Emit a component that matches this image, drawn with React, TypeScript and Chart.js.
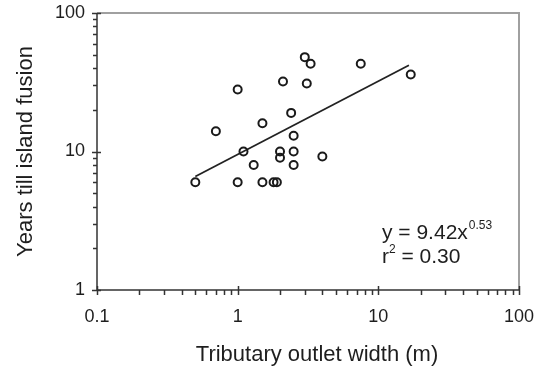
import React, { useEffect, useRef } from "react";
import { Chart, registerables } from "chart.js";

Chart.register(...registerables);

const widths = [0.5, 1.0, 1.5, 1.8, 1.9, 0.7, 1.0, 1.1, 1.3, 1.5, 2.0, 2.0, 2.1, 2.4, 2.5, 2.5, 2.5, 3.0, 3.1, 3.3, 4.0, 7.5, 17];
const years = [6, 6, 6, 6, 6, 14, 28, 10, 8, 16, 10, 9, 32, 19, 13, 10, 8, 48, 31, 43, 9.2, 43, 36];

const fitX = [0.5, 16.5];
const fitY = [6.6, 42];

const xDecades = [0.1, 1, 10, 100];
const xTickLabels = ["0.1", "1", "10", "100"];
const yDecades = [1, 10, 100];
const yTickLabels = ["1", "10", "100"];

const xTitle = "Tributary outlet width (m)";
const yTitle = "Years till island fusion";
const eqMain = "y = 9.42x";
const eqExp = "0.53";
const r2Base = "r";
const r2Exp = "2";
const r2Rest = " = 0.30";

const FONT = "'Liberation Sans', Arial, sans-serif";
const TEXT = "#1e1e1e";

function logTicks(decades: number[]): number[] {
  const out: number[] = [];
  for (let d = 0; d < decades.length - 1; d++) {
    for (let m = 1; m < 10; m++) out.push(+(decades[d] * m).toPrecision(6));
  }
  out.push(decades[decades.length - 1]);
  return out;
}

function isDecade(v: number, decades: number[]) {
  return decades.some((d) => Math.abs(d - v) / d < 1e-6);
}

const decorPlugin = {
  id: "decor",
  afterDraw(chart: any) {
    const { ctx, chartArea } = chart;
    const { left, right, top, bottom } = chartArea;
    const xs = chart.scales.x;
    const ys = chart.scales.y;
    ctx.save();
    // top and right frame
    ctx.strokeStyle = "#a0a0a0";
    ctx.lineWidth = 2;
    ctx.beginPath();
    ctx.moveTo(left, top);
    ctx.lineTo(right, top);
    ctx.lineTo(right, bottom);
    ctx.stroke();
    // tick marks
    ctx.strokeStyle = "#333";
    ctx.lineWidth = 1.5;
    ctx.beginPath();
    for (const v of logTicks(xDecades)) {
      const px = Math.round(xs.getPixelForValue(v)) + 0.5;
      if (isDecade(v, xDecades)) {
        ctx.moveTo(px, bottom - 4);
        ctx.lineTo(px, bottom + 5);
      } else {
        ctx.moveTo(px, bottom);
        ctx.lineTo(px, bottom + 5);
      }
    }
    for (const v of logTicks(yDecades)) {
      const py = Math.round(ys.getPixelForValue(v)) + 0.5;
      if (isDecade(v, yDecades)) {
        ctx.moveTo(left - 5, py);
        ctx.lineTo(left + 4, py);
      } else {
        ctx.moveTo(left - 4, py);
        ctx.lineTo(left, py);
      }
    }
    ctx.stroke();
    // axis lines
    ctx.beginPath();
    ctx.moveTo(left, top);
    ctx.lineTo(left, bottom);
    ctx.lineTo(right, bottom);
    ctx.stroke();

    ctx.fillStyle = TEXT;
    ctx.textBaseline = "alphabetic";
    ctx.textAlign = "left";
    // equation
    const ex = left + 285;
    const ey = top + 226;
    ctx.font = `21px ${FONT}`;
    ctx.fillText(eqMain, ex, ey);
    const w1 = ctx.measureText(eqMain).width;
    ctx.font = `12px ${FONT}`;
    ctx.fillText(eqExp, ex + w1 + 1, ey - 10);
    ctx.font = `21px ${FONT}`;
    ctx.fillText(r2Base, ex, ey + 24);
    const w2 = ctx.measureText(r2Base).width;
    ctx.font = `12px ${FONT}`;
    ctx.fillText(r2Exp, ex + w2, ey + 24 - 10);
    const w3 = ctx.measureText(r2Exp).width;
    ctx.font = `21px ${FONT}`;
    ctx.fillText(r2Rest, ex + w2 + w3, ey + 24);

    // x title
    ctx.textAlign = "center";
    ctx.textBaseline = "middle";
    ctx.font = `22px ${FONT}`;
    ctx.fillText(xTitle, 317, 355);
    ctx.restore();
  },
};

export default function App() {
  const ref = useRef<HTMLCanvasElement>(null);
  useEffect(() => {
    if (!ref.current) return;
    Chart.defaults.font.family = FONT;
    const chart = new Chart(ref.current, {
      type: "scatter",
      data: {
        datasets: [
          {
            label: "data",
            data: widths.map((w, i) => ({ x: w, y: years[i] })),
            pointRadius: 4,
            pointBorderWidth: 2,
            borderColor: "#1a1a1a",
            backgroundColor: "rgba(0,0,0,0)",
            pointBackgroundColor: "rgba(0,0,0,0)",
            showLine: false,
          },
          {
            label: "fit",
            type: "line",
            data: fitX.map((x, i) => ({ x, y: fitY[i] })),
            borderColor: "#222",
            borderWidth: 1.8,
            pointRadius: 0,
            showLine: true,
            fill: false,
          } as any,
        ],
      },
      options: {
        responsive: false,
        animation: false,
        layout: { padding: { top: 13, right: 15, left: 0, bottom: 0 } },
        plugins: { legend: { display: false }, tooltip: { enabled: false } },
        scales: {
          x: {
            type: "logarithmic",
            position: "bottom",
            min: 0.1,
            max: 100,
            afterBuildTicks: (s: any) => {
              s.ticks = logTicks(xDecades).map((v) => ({ value: v }));
            },
            afterFit: (s: any) => {
              s.height = 82;
              s.paddingLeft = 0;
              s.paddingRight = 0;
            },
            grid: { display: false, drawTicks: false },
            border: { display: false },
            ticks: {
              autoSkip: false,
              maxRotation: 0,
              padding: 16,
              color: TEXT,
              font: { size: 18, family: FONT },
              callback: (v: any) => {
                const i = xDecades.findIndex((d) => Math.abs(d - Number(v)) / d < 1e-6);
                return i >= 0 ? xTickLabels[i] : "";
              },
            },
          },
          y: {
            type: "logarithmic",
            position: "left",
            min: 1,
            max: 100,
            afterBuildTicks: (s: any) => {
              s.ticks = logTicks(yDecades).map((v) => ({ value: v }));
            },
            afterFit: (s: any) => {
              s.width = 97;
              s.paddingTop = 0;
              s.paddingBottom = 0;
            },
            grid: { display: false, drawTicks: false },
            border: { display: false },
            title: {
              display: true,
              text: yTitle,
              color: TEXT,
              font: { size: 22, family: FONT },
              padding: { top: 13, bottom: 0 },
            },
            ticks: {
              autoSkip: false,
              padding: 12,
              color: TEXT,
              font: { size: 18, family: FONT },
              callback: (v: any) => {
                const i = yDecades.findIndex((d) => Math.abs(d - Number(v)) / d < 1e-6);
                return i >= 0 ? yTickLabels[i] : "";
              },
            },
          },
        },
      },
      plugins: [decorPlugin],
    });
    return () => chart.destroy();
  }, []);
  return (
    <div style={{ position: "absolute", left: 0, top: 0, width: 534, height: 372, background: "#fff" }}>
      <canvas ref={ref} width={534} height={372} style={{ width: 534, height: 372 }} />
    </div>
  );
}
